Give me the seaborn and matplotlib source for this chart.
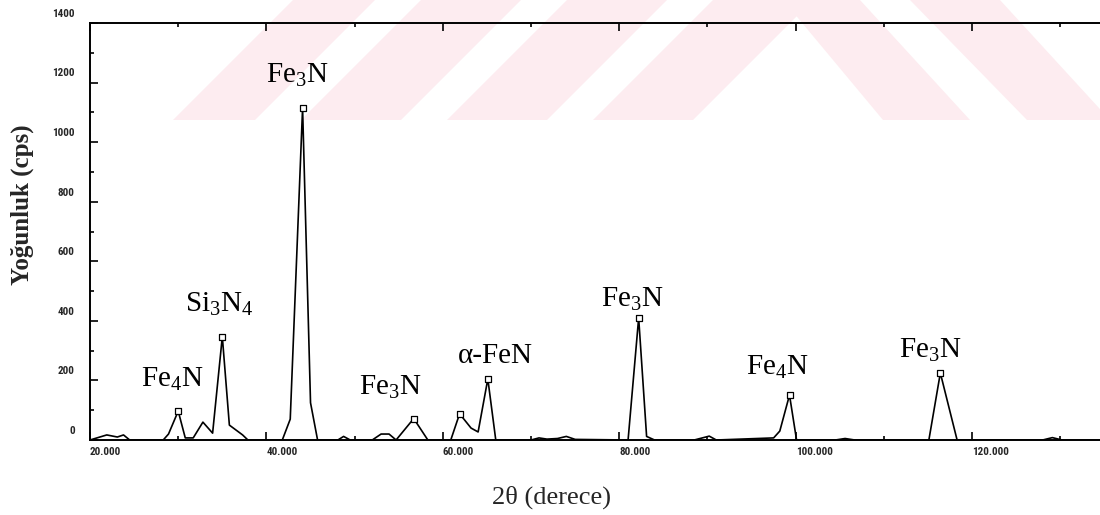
import numpy as np
import pandas as pd
import matplotlib
matplotlib.use("Agg")
import matplotlib.pyplot as plt
import matplotlib.transforms as mtransforms
from matplotlib.patches import Polygon
from matplotlib import font_manager
import seaborn as sns

# ---------------- data ----------------
two_theta = [20.0, 21.9, 23.1, 23.8, 24.5, 28.3, 28.9, 30.0, 30.8, 31.7, 32.8, 33.9,
             35.0, 35.8, 37.3, 37.9, 41.8, 42.7, 44.1, 45.0, 45.8, 48.1, 48.75, 49.5,
             52.0, 53.0, 53.9, 54.7, 56.7, 58.3, 60.9, 61.9, 63.2, 64.0, 65.1, 66.0,
             70.0, 70.9, 71.8, 73.0, 74.0, 75.0, 81.0, 82.2, 83.1, 84.0, 88.5, 90.2,
             91.0, 97.5, 98.2, 99.3, 100.1, 104.5, 105.6, 106.7, 115.1, 116.4, 118.3,
             128.0, 129.1, 130.2, 134.8]
intensity = [0, 17, 10, 17, 0, 0, 20, 97, 7, 7, 60, 23,
             347, 50, 17, 0, 0, 70, 1115, 125, 0, 0, 12, 0,
             0, 20, 20, 0, 72, 0, 0, 88, 40, 27, 205, 0,
             0, 7, 3, 5, 12, 2, 0, 410, 12, 0, 0, 13,
             0, 7, 30, 151, 0, 0, 5, 0, 0, 225, 0,
             0, 8, 0, 0]

peak_theta = [30.0, 35.0, 44.1, 56.7, 61.9, 65.1, 82.2, 99.3, 116.4]

phase_labels = [r"Fe$_4$N", r"Si$_3$N$_4$", r"Fe$_3$N", r"Fe$_3$N", "\u03b1-FeN",
                r"Fe$_3$N", r"Fe$_4$N", r"Fe$_3$N"]
label_theta = [29.3, 34.63, 43.47, 54.0, 65.9, 81.45, 97.95, 115.24]
label_level = [178, 430, 1198, 151, 258, 446, 218, 275]

x_major = [20, 40, 60, 80, 100, 120]
x_minor = [30, 50, 70, 90, 110, 130]
y_major = [0, 200, 400, 600, 800, 1000, 1200, 1400]
y_minor = [100, 300, 500, 700, 900, 1100, 1300]

x_title = "2\u03b8 (derece)"
y_title = "Yo\u011funluk (cps)"

# ---------------- style ----------------
sns.set_style("ticks")
plt.rcParams["font.family"] = ["Liberation Serif", "DejaVu Serif"]
plt.rcParams["mathtext.fontset"] = "custom"
plt.rcParams["mathtext.rm"] = "Liberation Serif"
plt.rcParams["mathtext.it"] = "Liberation Serif:italic"
plt.rcParams["mathtext.bf"] = "Liberation Serif:bold"


def pick(fams):
    for f in fams:
        try:
            font_manager.findfont(font_manager.FontProperties(family=f),
                                  fallback_to_default=False)
            return f
        except Exception:
            continue
    return "DejaVu Sans"


tick_font = pick(["Liberation Sans Narrow", "Roboto Condensed", "DejaVu Sans"])

df = pd.DataFrame({"two_theta": two_theta, "intensity": intensity})
peaks = pd.DataFrame({"two_theta": peak_theta,
                      "intensity": np.interp(peak_theta, two_theta, intensity)})

W, H = 1100, 515
fig = plt.figure(figsize=(W / 100, H / 100), dpi=100)
fig.patch.set_facecolor("white")

# watermark stripes (decoration, figure pixel coordinates, y measured from top)
pink = "#fdecf0"
bands_left = [(173, 255), (301, 401), (447, 547), (593, 693)]
for x0, x1 in bands_left:
    pts = [(x0, 120), (x1, 120), (x1 + 120, 0), (x0 + 120, 0)]
    fig.add_artist(Polygon([(px / W, 1 - py / H) for px, py in pts],
                           closed=True, transform=fig.transFigure,
                           facecolor=pink, edgecolor="none", zorder=-5))
bands_right = [((783, 860), (883, 970)), ((910, 1000), (1027, 1110))]
for (t0, t1), (b0, b1) in bands_right:
    pts = [(t0, 0), (t1, 0), (b1, 120), (b0, 120)]
    fig.add_artist(Polygon([(px / W, 1 - py / H) for px, py in pts],
                           closed=True, transform=fig.transFigure,
                           facecolor=pink, edgecolor="none", zorder=-5))

ax = fig.add_axes([90 / W, (H - 440) / H, 1 - 90 / W, 417 / H])
ax.set_facecolor("none")

sns.lineplot(data=df, x="two_theta", y="intensity", sort=False, estimator=None,
             color="black", linewidth=1.2, ax=ax)
sns.scatterplot(data=peaks, x="two_theta", y="intensity", marker="s", s=14,
                facecolor="white", edgecolor="black", linewidth=0.9, zorder=5, ax=ax)

for txt, xt, yl in zip(phase_labels, label_theta, label_level):
    ax.text(xt, yl, txt, ha="center", va="baseline", fontsize=21,
            family="Liberation Serif", color="black")

ax.set_xlim(20, 134.5)
ax.set_ylim(0, 1400)
ax.set_xticks(x_major)
ax.set_xticks(x_minor, minor=True)
ax.set_yticks(y_major)
ax.set_yticks(y_minor, minor=True)
ax.set_xticklabels([f"{v:.3f}" for v in x_major])
ax.set_yticklabels([str(v) for v in y_major])

for s in ["left", "top", "bottom"]:
    ax.spines[s].set_linewidth(1.4)
    ax.spines[s].set_color("black")
ax.spines["right"].set_visible(False)

ax.tick_params(axis="both", which="both", direction="in", top=True, right=False,
               color="black", width=1.2)
ax.tick_params(axis="both", which="major", length=5.5)
ax.tick_params(axis="both", which="minor", length=3)
ax.tick_params(axis="x", which="major", pad=5)
ax.tick_params(axis="y", which="major", pad=11)

for lab in ax.get_xticklabels():
    lab.set_ha("left")
    lab.set_fontfamily(tick_font)
    lab.set_fontweight("bold")
    lab.set_fontsize(8)
off = mtransforms.ScaledTranslation(0, 3 / 72, fig.dpi_scale_trans)
for lab in ax.get_yticklabels():
    lab.set_va("bottom")
    lab.set_fontfamily(tick_font)
    lab.set_fontweight("bold")
    lab.set_fontsize(8)
    lab.set_transform(lab.get_transform() + off)

ax.set_xlabel("")
ax.set_ylabel("")
fig.text(551 / W, 1 - 497 / H, x_title, ha="center", va="center", fontsize=19,
         family="Liberation Serif")
fig.text(22 / W, 1 - 205 / H, y_title, ha="center", va="center", rotation=90,
         fontsize=18, fontweight="bold", family="Liberation Serif")

fig.savefig("out.png", dpi=100, facecolor="white")
